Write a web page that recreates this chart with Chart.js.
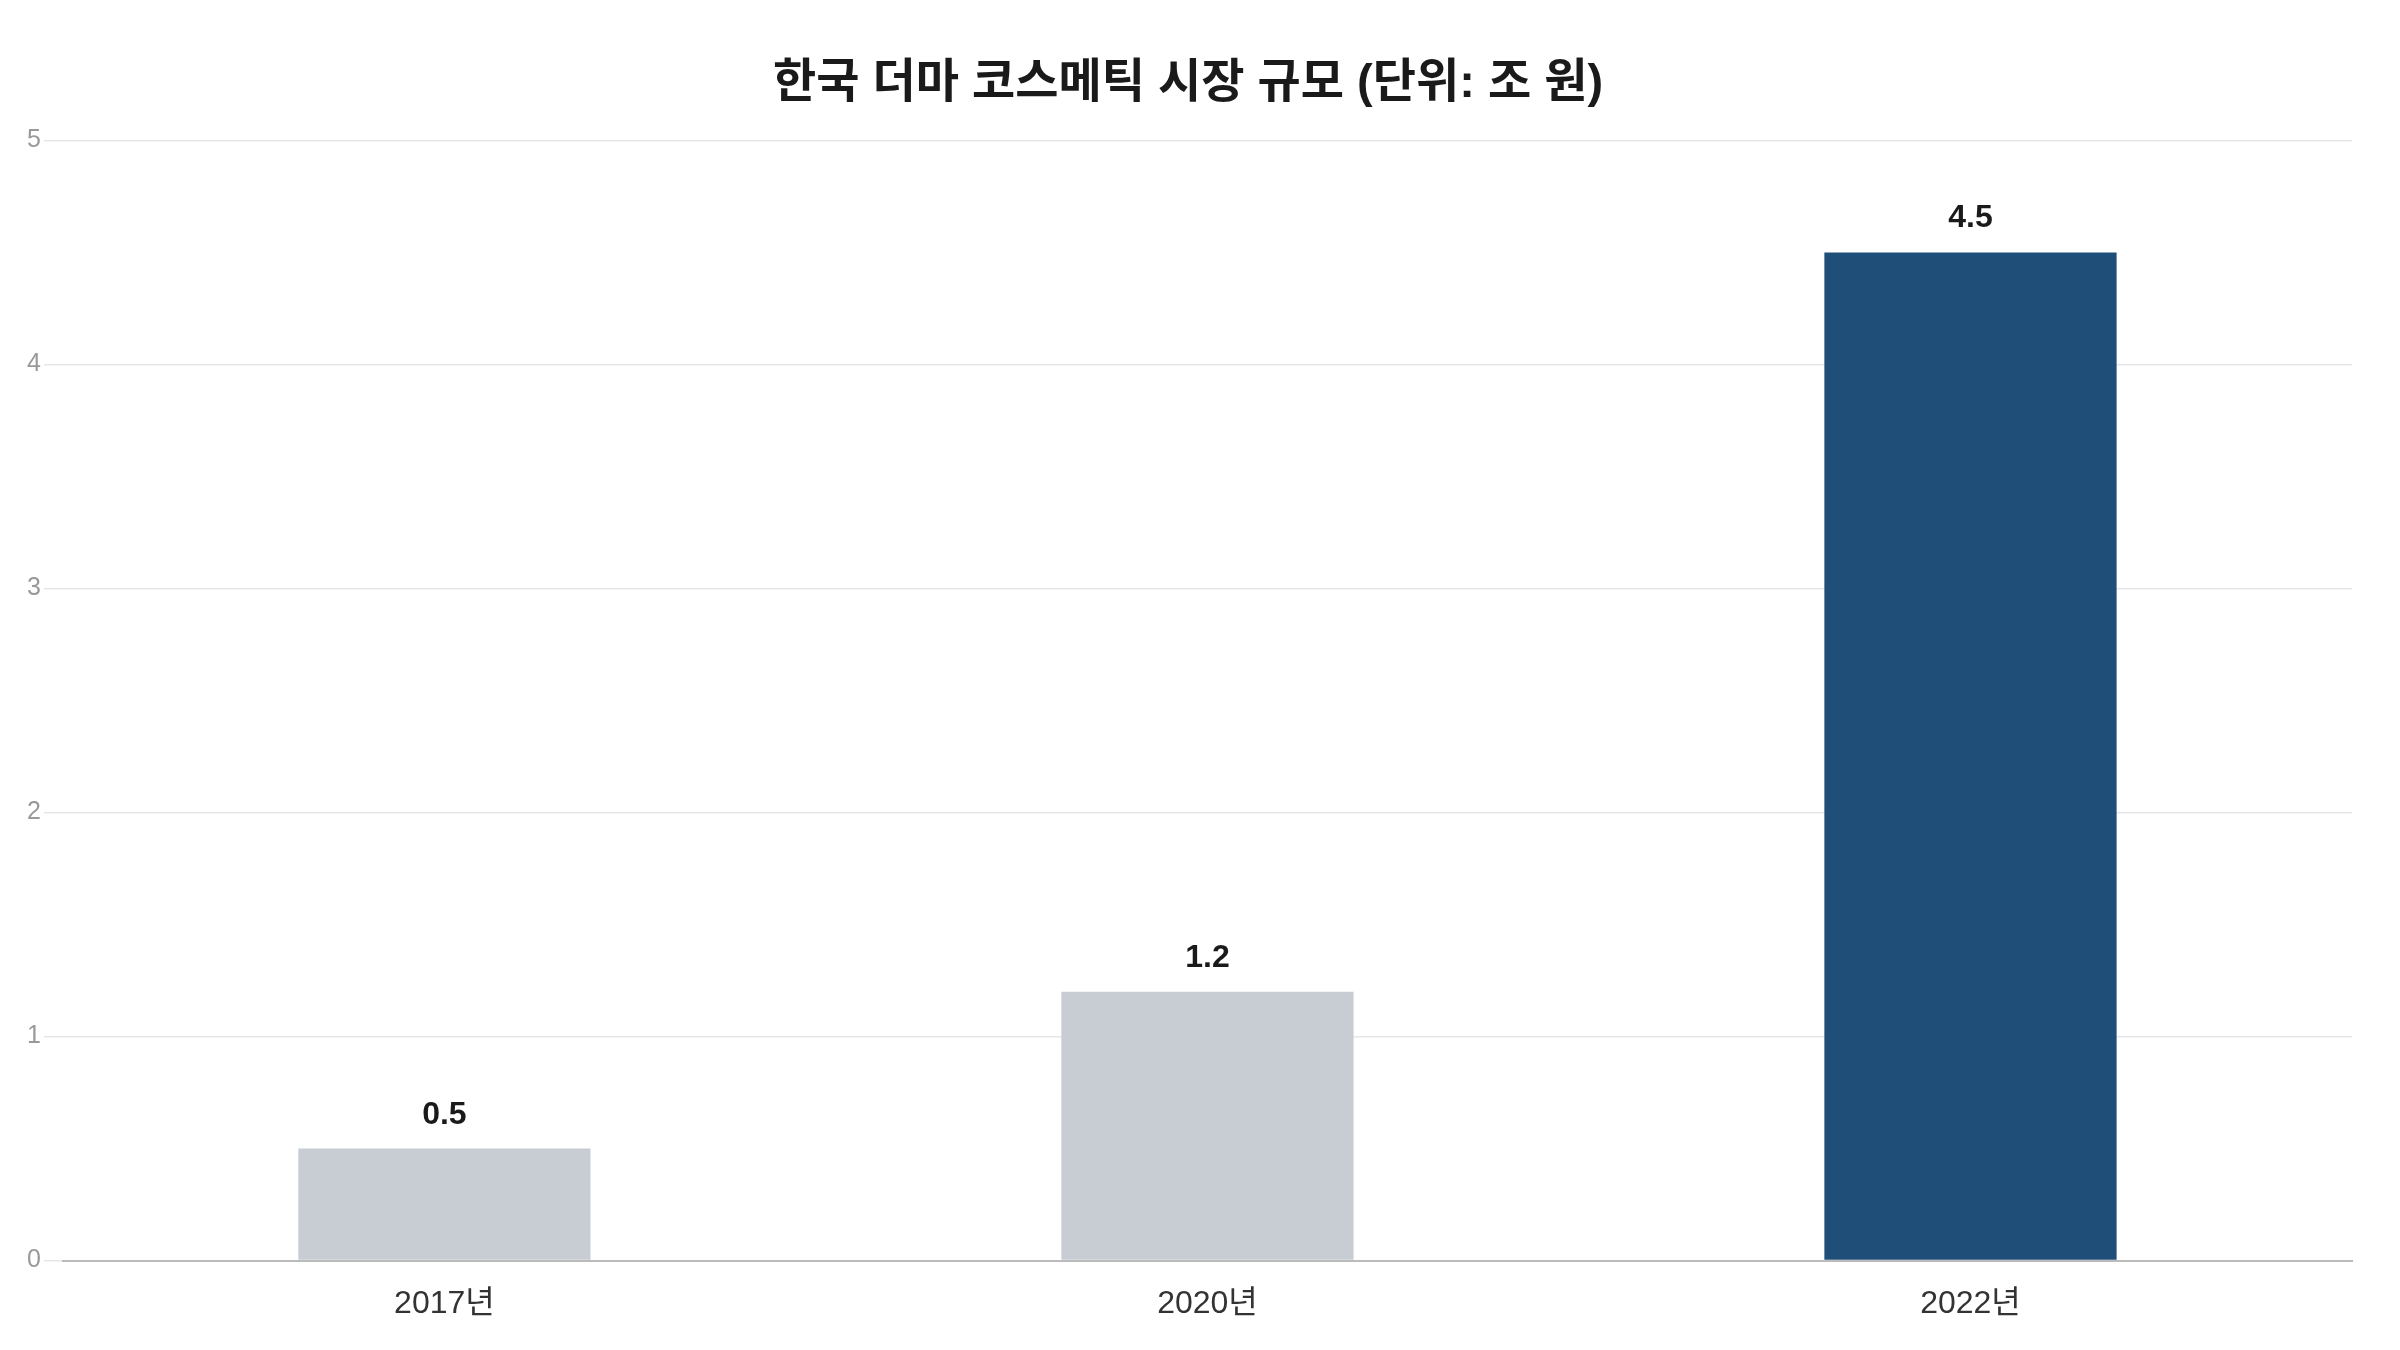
<!DOCTYPE html>
<html>
<head>
<meta charset="utf-8">
<script src="https://cdn.jsdelivr.net/npm/chart.js@4"></script>
<style>
  html, body { margin: 0; padding: 0; background: #fff; }
  #wrap { width: 2400px; height: 1350px; }
</style>
</head>
<body>
<div id="wrap"><canvas id="myChart" width="2400" height="1350"></canvas></div>
<script>
// data
var years = ['2017년', '2020년', '2022년']
var marketSize = [0.5, 1.2, 4.5]
var barColors = ['#c8cdd4', '#c8cdd4', '#1f4e79']
var yTicks = [0, 1, 2, 3, 4, 5]

var fontFamily = "'Liberation Sans', Arial, 'Noto Sans CJK KR', sans-serif"

// draws the value above each bar
var valueLabels = {
    id: 'valueLabels',
    afterDatasetsDraw: function(chart) {
        var ctx = chart.ctx
        var meta = chart.getDatasetMeta(0)
        ctx.save()
        ctx.font = 'bold 32px ' + fontFamily
        ctx.fillStyle = '#1a1a1a'
        ctx.textAlign = 'center'
        ctx.textBaseline = 'alphabetic'
        meta.data.forEach(function(bar, i) {
            ctx.fillText(marketSize[i].toFixed(1), bar.x, bar.y - 25)
        })
        ctx.restore()
    }
}

var ctx = document.getElementById('myChart')

var myChart = new Chart(ctx, {
    type: 'bar',
    data: {
        labels: years,
        datasets: [
            {
                label: '시장 규모',
                data: marketSize,
                backgroundColor: barColors,
                borderWidth: 0,
                categoryPercentage: 1.0,
                barPercentage: 0.383
            }
        ]
    },
    options: {
        responsive: false,
        animation: false,
        layout: {
            padding: { left: 24, right: 48, top: 0, bottom: 3 }
        },
        plugins: {
            legend: { display: false },
            tooltip: { enabled: false },
            title: {
                display: true,
                text: '한국 더마 코스메틱 시장 규모 (단위: 조 원)',
                color: '#1a1a1a',
                font: { family: fontFamily, size: 47, weight: 'bold' },
                padding: { top: 56, bottom: 28 }
            }
        },
        scales: {
            x: {
                grid: { display: false, drawTicks: false },
                border: { display: true, color: '#bbbbbb', width: 2 },
                ticks: {
                    color: '#333333',
                    font: { family: fontFamily, size: 32 },
                    padding: 24
                }
            },
            y: {
                min: 0,
                max: 5,
                afterBuildTicks: function(axis) {
                    axis.ticks = yTicks.map(function(v) { return { value: v } })
                },
                grid: { color: '#e6e6e6', lineWidth: 1.5, tickLength: 19 },
                border: { display: false },
                ticks: {
                    color: '#999999',
                    font: { family: fontFamily, size: 25 },
                    padding: 3
                }
            }
        }
    },
    plugins: [valueLabels]
})
</script>
</body>
</html>
